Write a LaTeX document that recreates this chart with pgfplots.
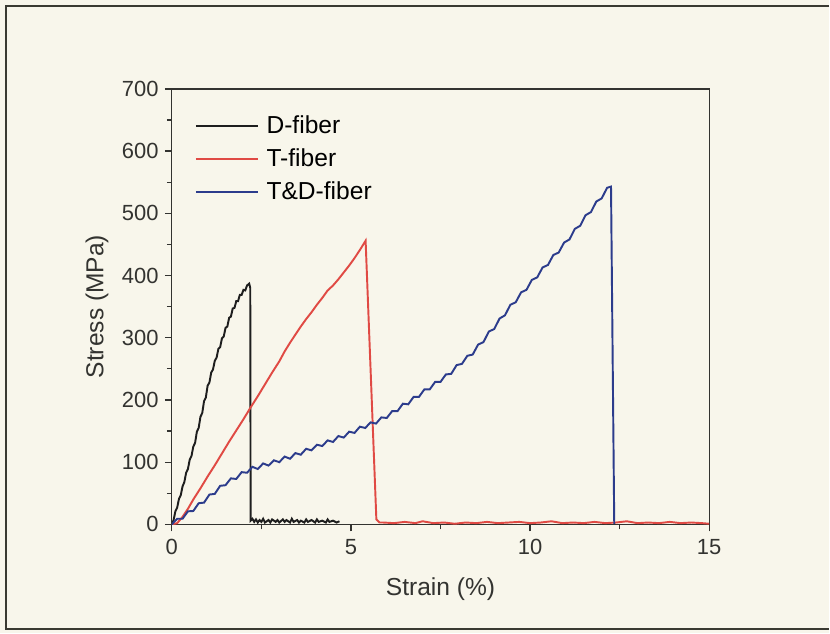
\documentclass[border=0pt]{standalone}
\usepackage{pgfplots}
\pgfplotsset{compat=1.18}
\usepackage{fontspec}
\setmainfont{Liberation Sans}
\definecolor{paper}{HTML}{F8F6EB}
\definecolor{frameCol}{HTML}{3A3A32}
\definecolor{axisCol}{HTML}{333330}
\definecolor{dBlack}{HTML}{1E1E1E}
\definecolor{tRed}{HTML}{E04A44}
\definecolor{tdBlue}{HTML}{2C3C8C}
\begin{document}
\begin{tikzpicture}
  \fill[paper] (0,0) rectangle (16.6,12.68);
  \draw[frameCol, line width=1.1pt] (16.6,12.56) -- (0.12,12.56) -- (0.12,0.08) -- (16.6,0.08);
  \begin{axis}[
    at={(3.44cm,2.18cm)}, anchor=south west,
    scale only axis,
    width=10.76cm, height=8.72cm,
    xmin=0, xmax=15, ymin=0, ymax=700,
    xtick={0,5,10,15}, minor x tick num=1,
    ytick distance=100, minor y tick num=1,
    tick align=outside,
    xtick pos=left, ytick pos=left,
    major tick length=0.14cm, minor tick length=0.1cm,
    axis line style={draw=axisCol, line width=0.7pt},
    tick style={draw=axisCol, line width=0.7pt},
    /pgf/number format/assume math mode=true,
    ticklabel style={font=\fontsize{12.5}{14}\selectfont, text=axisCol},
    xticklabel style={yshift=-1pt},
    xlabel={Strain (\%)},
    ylabel={Stress (MPa)},
    every axis x label/.style={at={(axis description cs:0.5,-0.149)}, anchor=center,
      font=\fontsize{14}{16}\selectfont, text=axisCol},
    every axis y label/.style={at={(axis description cs:-0.139,0.5)}, rotate=90, anchor=center,
      font=\fontsize{14}{16}\selectfont, text=axisCol},
    legend style={draw=none, fill=none, at={(0.042,0.947)}, anchor=north west,
      font=\fontsize{14}{16}\selectfont, row sep=3.2pt, column sep=2.3pt, inner sep=0pt},
    legend cell align=left,
    legend image code/.code={\draw[#1, line width=1.35pt] (0cm,0cm) -- (1.24cm,0cm);},
  ]
    % D-fiber
    \addplot[dBlack, line width=1.1pt] coordinates {
      (0,0) (0.05,7) (0.1,21) (0.15,27) (0.2,41) (0.25,47) (0.3,61) (0.35,68)
      (0.4,83) (0.45,89) (0.5,104) (0.55,110) (0.6,125) (0.65,131) (0.7,149)
      (0.75,155) (0.8,173) (0.85,179) (0.9,198) (0.95,204) (1.0,223) (1.05,228)
      (1.1,244) (1.15,249) (1.2,263) (1.25,268) (1.3,282) (1.35,285) (1.4,299)
      (1.45,302) (1.5,316) (1.55,318) (1.6,332) (1.65,334) (1.7,347) (1.75,348)
      (1.8,359) (1.85,359) (1.9,369) (1.95,369) (2.0,377) (2.05,376) (2.1,384)
      (2.16,387) (2.19,380) (2.2,6)
      (2.25,9) (2.3,4) (2.35,8) (2.4,3) (2.45,7) (2.5,4) (2.55,9) (2.6,3)
      (2.7,7) (2.75,3) (2.8,8) (2.9,4) (2.95,7) (3.0,3) (3.1,8) (3.15,4)
      (3.2,7) (3.3,3) (3.35,9) (3.4,4) (3.5,7) (3.55,3) (3.6,6) (3.7,3)
      (3.75,8) (3.8,4) (3.9,7) (4.0,3) (4.05,8) (4.1,4) (4.2,6) (4.3,3)
      (4.35,8) (4.4,4) (4.5,6) (4.6,3) (4.68,5)
    };
    \addlegendentry{D-fiber}
    % T-fiber
    \addplot[tRed, line width=1.1pt] coordinates {
      (0,0) (0.15,2) (0.3,12) (0.45,25) (0.6,40) (0.8,58) (1.0,77) (1.2,95)
      (1.4,114) (1.6,133) (1.8,151) (2.0,169) (2.2,188) (2.4,206) (2.6,225)
      (2.8,244) (3.0,262) (3.15,278) (3.3,292) (3.45,305) (3.6,318) (3.75,330)
      (3.9,341) (4.05,353) (4.2,364) (4.35,376) (4.5,384) (4.65,394) (4.8,405)
      (4.95,416) (5.1,428) (5.25,441) (5.41,456) (5.71,8) (5.8,3)
      (5.9,3) (6.2,2) (6.5,4) (6.8,2) (7.0,5) (7.3,2) (7.6,3) (7.9,1) (8.2,3)
      (8.5,2) (8.8,4) (9.1,2) (9.4,3) (9.7,4) (10.0,2) (10.3,3) (10.6,5)
      (10.9,2) (11.2,3) (11.5,2) (11.8,4) (12.1,2) (12.4,3) (12.7,5) (13.0,2)
      (13.3,3) (13.6,2) (13.9,4) (14.2,2) (14.5,3) (14.8,2) (15.0,1)
    };
    \addlegendentry{T-fiber}
    % T&D-fiber
    \addplot[tdBlue, line width=1.1pt] coordinates {
      (0,0) (0.15,9) (0.3,9) (0.45,21) (0.6,21.5) (0.75,34) (0.9,35) (1.05,48)
      (1.2,49) (1.35,62) (1.5,63) (1.65,74) (1.8,73) (1.95,84) (2.1,83)
      (2.25,92.5) (2.4,89) (2.55,98) (2.7,94.5) (2.85,103) (3.0,100) (3.15,109)
      (3.3,105.5) (3.45,114.6) (3.6,112) (3.75,121.5) (3.9,119) (4.05,128)
      (4.2,126) (4.35,135) (4.5,132.5) (4.65,142) (4.8,139.5) (4.95,149)
      (5.1,147) (5.25,157) (5.4,155) (5.55,164) (5.7,162) (5.85,172) (6.0,171)
      (6.15,182) (6.3,182) (6.45,194) (6.6,193) (6.75,205) (6.9,205) (7.05,217)
      (7.2,217) (7.35,229) (7.5,229) (7.65,241) (7.8,242) (7.95,256) (8.1,258)
      (8.25,271) (8.4,273) (8.55,289) (8.7,293) (8.85,310) (9.0,314) (9.15,331)
      (9.3,336) (9.45,353) (9.6,357) (9.75,373) (9.9,377) (10.05,393)
      (10.2,397) (10.35,413) (10.5,417) (10.65,433) (10.8,437) (10.95,453)
      (11.1,458) (11.25,475) (11.4,480) (11.55,497) (11.7,502) (11.85,519)
      (12.0,524) (12.15,541) (12.26,543) (12.35,1)
    };
    \addlegendentry{T\&D-fiber}
  \end{axis}
\end{tikzpicture}
\end{document}
